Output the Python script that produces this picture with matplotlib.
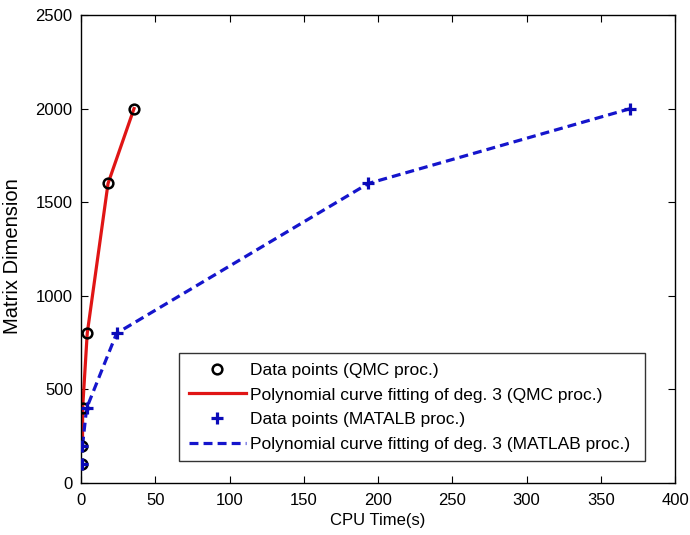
import matplotlib
matplotlib.use("Agg")
import matplotlib.pyplot as plt

plt.rcParams['font.family'] = ['Liberation Sans', 'DejaVu Sans']

# Data
dims = [100, 200, 400, 800, 1600, 2000]
qmc_time = [0.8, 1.0, 1.1, 4.2, 18.2, 35.7]
matlab_time = [0.6, 1.0, 3.8, 24.0, 193.5, 370.0]

fit_dims = [200, 400, 800, 1600, 2000]
qmc_fit_time = [1.0, 1.1, 4.2, 18.2, 35.7]
matlab_fit_time = [1.0, 3.8, 24.0, 193.5, 370.0]

xticks = [0, 50, 100, 150, 200, 250, 300, 350, 400]
yticks = [0, 500, 1000, 1500, 2000, 2500]

fig = plt.figure(figsize=(6.9, 5.35), dpi=100)
ax = fig.add_axes([0.1174, 0.0972, 0.8609, 0.8748])

ax.plot(qmc_time, dims, linestyle='none', marker='o', markersize=7,
        markerfacecolor='none', markeredgecolor='black', markeredgewidth=1.8,
        label='Data points (QMC proc.)', zorder=3)
ax.plot(qmc_fit_time, fit_dims, color='#e01515', linewidth=2.3,
        label='Polynomial curve fitting of deg. 3 (QMC proc.)', zorder=2)
ax.plot(matlab_time, dims, linestyle='none', marker='+', markersize=8,
        markeredgecolor='#0a0ab8', markeredgewidth=2.3,
        label='Data points (MATALB proc.)', zorder=3)
ax.plot(matlab_fit_time, fit_dims, color='#1515cc', linewidth=2.3,
        linestyle=(0, (2.8, 1.6)),
        label='Polynomial curve fitting of deg. 3 (MATLAB proc.)', zorder=2)

ax.set_xlim(0, 400)
ax.set_ylim(0, 2500)
ax.set_xticks(xticks)
ax.set_yticks(yticks)
ax.tick_params(direction='in', top=True, right=True, labelsize=12, length=5)
ax.tick_params(axis='x', pad=7)
ax.tick_params(axis='y', pad=6)
ax.set_xlabel('CPU Time(s)', fontsize=12, labelpad=4)
ax.set_ylabel('Matrix Dimension', fontsize=14.5)
ax.yaxis.set_label_coords(-0.099, 0.485)
for s in ax.spines.values():
    s.set_linewidth(1.0)

leg = ax.legend(loc='lower left', bbox_to_anchor=(0.165, 0.046, 0.784, 0.238),
                mode='expand', fontsize=12.5, frameon=True, fancybox=False,
                edgecolor='black', handlelength=3.3, borderaxespad=0,
                labelspacing=0.55, handletextpad=0.25, borderpad=0.55)
leg.get_frame().set_linewidth(1.0)

fig.savefig('out.png', dpi=100)
